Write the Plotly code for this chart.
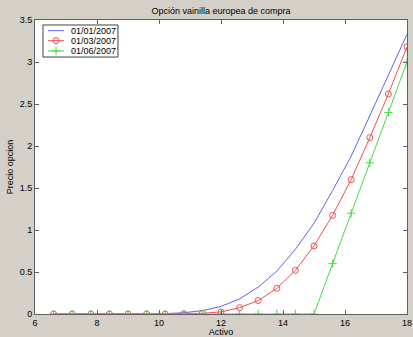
import plotly.graph_objects as go

activo = [6.6, 7.2, 7.8, 8.4, 9.0, 9.6, 10.2, 10.8, 11.4, 12.0,
          12.6, 13.2, 13.8, 14.4, 15.0, 15.6, 16.2, 16.8, 17.4, 18.0]
precio_ene = [0, 0, 0, 0, 0, 0.001, 0.004, 0.015, 0.04, 0.09,
              0.18, 0.32, 0.51, 0.77, 1.08, 1.47, 1.88, 2.36, 2.84, 3.33]
precio_mar = [0, 0, 0, 0, 0, 0, 0, 0.002, 0.008, 0.025,
              0.075, 0.16, 0.305, 0.52, 0.81, 1.175, 1.60, 2.10, 2.62, 3.18]
precio_jun = [0, 0, 0, 0, 0, 0, 0, 0, 0, 0,
              0, 0, 0, 0, 0, 0.6, 1.2, 1.8, 2.4, 3.0]
series_names = ["01/01/2007", "01/03/2007", "01/06/2007"]
x_ticks = [6, 8, 10, 12, 14, 16, 18]
y_ticks = [0, 0.5, 1, 1.5, 2, 2.5, 3, 3.5]
y_tick_text = ["0", "0.5", "1", "1.5", "2", "2.5", "3", "3.5"]

FONT = "Liberation Sans, Arial, sans-serif"
BG = "#d4d0c8"
AX = "#606060"
COLORS = ["#6262ee", "#ee5050", "#44dd44"]
MARKERS = [None, dict(symbol="circle-open", size=6), dict(symbol="cross-thin-open", size=6)]
series = [precio_ene, precio_mar, precio_jun]

fig = go.Figure()
for name, ys, col, mk in zip(series_names, series, COLORS, MARKERS):
    kw = dict(mode="lines")
    if mk:
        kw = dict(mode="lines+markers",
                  marker=dict(symbol=mk["symbol"], size=mk["size"], color=col,
                              line=dict(width=1, color=col)))
    fig.add_trace(go.Scatter(x=activo, y=ys, name=name, line=dict(color=col, width=1),
                             showlegend=False, **kw))

# custom compact legend (MATLAB style) on an overlay axis in plot-fraction units
leg_x0, leg_x1, leg_y0, leg_y1 = 0.0215, 0.223, 0.874, 0.983
row_y = [0.9636, 0.9296, 0.8946]
samp_x = [0.035, 0.078]
txt_x = 0.0914
for name, col, mk, ry in zip(series_names, COLORS, MARKERS, row_y):
    fig.add_trace(go.Scatter(x=samp_x, y=[ry, ry], mode="lines", xaxis="x2", yaxis="y2",
                             line=dict(color=col, width=1), showlegend=False, hoverinfo="skip"))
    if mk:
        fig.add_trace(go.Scatter(x=[(samp_x[0] + samp_x[1]) / 2], y=[ry], mode="markers",
                                 xaxis="x2", yaxis="y2", showlegend=False, hoverinfo="skip",
                                 marker=dict(symbol=mk["symbol"], size=mk["size"], color=col,
                                             line=dict(width=1, color=col))))
    fig.add_annotation(x=txt_x, y=ry, xref="x domain", yref="y domain", text=name,
                       showarrow=False, xanchor="left", yanchor="middle",
                       font=dict(family=FONT, size=9, color="#000"))
fig.add_shape(type="rect", xref="x domain", yref="y domain", x0=leg_x0, x1=leg_x1,
              y0=leg_y0, y1=leg_y1, fillcolor="white", line=dict(color="#404040", width=1),
              layer="below")

axis_common = dict(showgrid=False, zeroline=False, showline=True, linecolor=AX,
                   linewidth=1, mirror="ticks", ticks="inside", ticklen=4, tickwidth=1,
                   tickcolor=AX, automargin=False,
                   tickfont=dict(family=FONT, size=9, color="#000"))

fig.update_layout(
    width=413, height=337,
    margin=dict(l=35, r=6, t=20, b=23),
    paper_bgcolor=BG, plot_bgcolor="white",
    title=dict(text="Opción vainilla europea de compra", x=0.535, xanchor="center",
               y=1 - 10.5 / 337, yanchor="middle", font=dict(family=FONT, size=9, color="#000")),
    xaxis=dict(range=[6, 18], tickvals=x_ticks, **axis_common,
               title=dict(text="Activo", font=dict(family=FONT, size=9, color="#000"), standoff=0)),
    yaxis=dict(range=[0, 3.5], tickvals=y_ticks, ticktext=y_tick_text, **axis_common,
               title=dict(text="Precio opcion", font=dict(family=FONT, size=9, color="#000"), standoff=4)),
    xaxis2=dict(overlaying="x", range=[0, 1], visible=False, anchor="y2", fixedrange=True),
    yaxis2=dict(overlaying="y", range=[0, 1], visible=False, anchor="x2", fixedrange=True),
    showlegend=False,
)

fig.write_html("out.html")
